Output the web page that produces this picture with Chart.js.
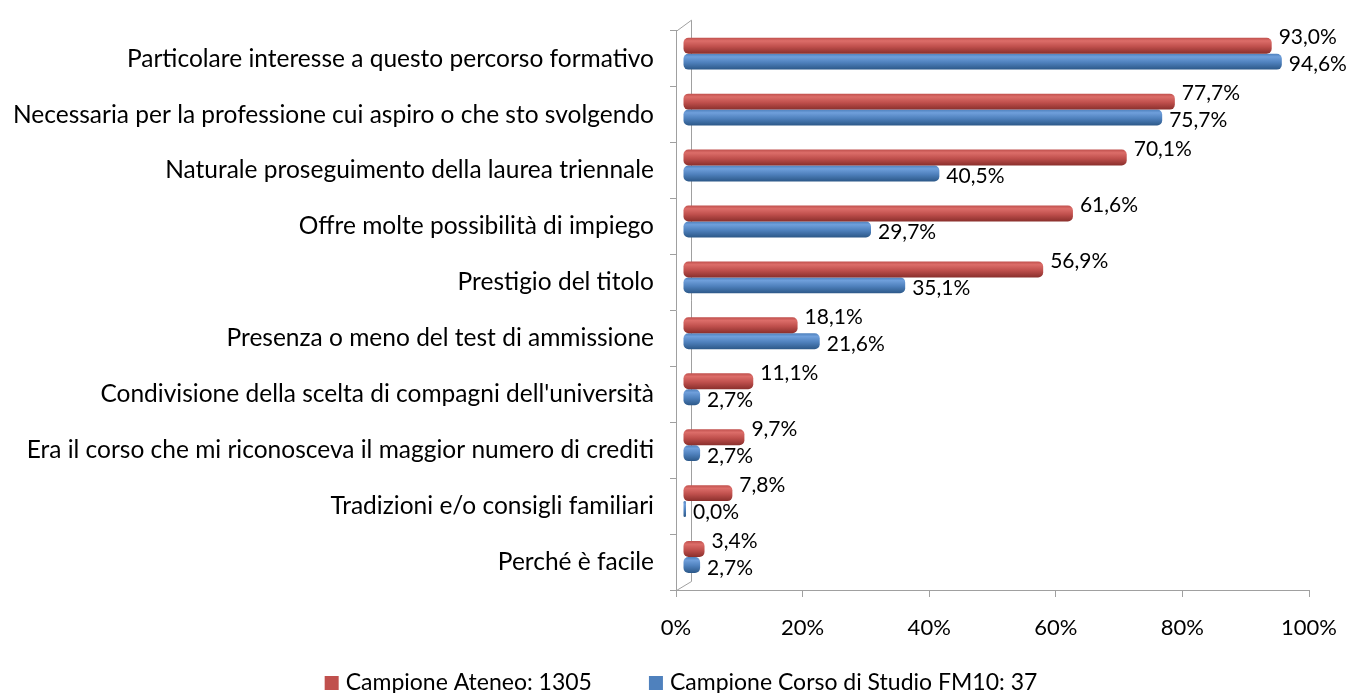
<!DOCTYPE html>
<html>
<head>
<meta charset="utf-8">
<script src="https://cdn.jsdelivr.net/npm/chart.js@4.4.1/dist/chart.umd.min.js"></script>
<style>
  html, body { margin: 0; padding: 0; background: #fff; }
  canvas { display: block; }
</style>
</head>
<body>
<canvas id="chart" width="1362" height="693"></canvas>
<script>
const categories = [
  'Particolare interesse a questo percorso formativo',
  'Necessaria per la professione cui aspiro o che sto svolgendo',
  'Naturale proseguimento della laurea triennale',
  'Offre molte possibilità di impiego',
  'Prestigio del titolo',
  'Presenza o meno del test di ammissione',
  "Condivisione della scelta di compagni dell'università",
  'Era il corso che mi riconosceva il maggior numero di crediti',
  'Tradizioni e/o consigli familiari',
  'Perché è facile',
]
const ateneoValues = [93.0, 77.7, 70.1, 61.6, 56.9, 18.1, 11.1, 9.7, 7.8, 3.4]
const corsoValues = [94.6, 75.7, 40.5, 29.7, 35.1, 21.6, 2.7, 2.7, 0.0, 2.7]
const seriesNames = ['Campione Ateneo: 1305', 'Campione Corso di Studio FM10: 37']
const xTicks = [0, 20, 40, 60, 80, 100]

const FONT = 'Lato, "Open Sans", sans-serif'
const AXIS_GRAY = '#a0a0a0'
const DEPTH_X = 7
const DEPTH_Y = -5

const shades = [
  { light: '#dc6d69', base: '#c0504d', dark: '#8a2f2c' },
  { light: '#6f9fdb', base: '#4f81bd', dark: '#2c5888' },
]

const fmt = (v) => v.toFixed(1).replace('.', ',') + '%'

const depthPlugin = {
  id: 'depth',
  beforeDatasetsDraw(chart) {
    const { ctx, chartArea } = chart
    const { left, top, bottom } = chartArea
    // back wall of the 3d frame
    ctx.save()
    ctx.strokeStyle = AXIS_GRAY
    ctx.lineWidth = 1
    ctx.beginPath()
    ctx.moveTo(left + 0.5, top + 0.5)
    ctx.lineTo(left + 15.5, top - 10.5)
    ctx.lineTo(left + 15.5, bottom - 8.5)
    ctx.lineTo(left + 0.5, bottom + 0.5)
    ctx.stroke()
    ctx.restore()

    chart.data.datasets.forEach((ds, i) => {
      const meta = chart.getDatasetMeta(i)
      const s = shades[i]
      meta.data.forEach((bar) => {
        const t = bar.y - bar.height / 2
        const g = ctx.createLinearGradient(0, t, 0, t + bar.height)
        g.addColorStop(0, s.base)
        g.addColorStop(0.2, s.light)
        g.addColorStop(0.55, s.base)
        g.addColorStop(1, s.dark)
        bar.options = Object.assign({}, bar.options, { backgroundColor: g })
      })
    })
    ctx.save()
    ctx.translate(DEPTH_X, DEPTH_Y)
  },
  afterDatasetsDraw(chart) {
    const { ctx } = chart
    ctx.font = '21px ' + FONT
    ctx.fillStyle = '#000'
    ctx.textAlign = 'left'
    ctx.textBaseline = 'middle'
    chart.data.datasets.forEach((ds, i) => {
      const meta = chart.getDatasetMeta(i)
      meta.data.forEach((bar, j) => {
        const dy = i === 0 ? -8 : 3
        ctx.fillText(fmt(ds.data[j]), bar.x + 7, bar.y + dy)
      })
    })
    ctx.restore()
  },
}

// legend drawn by hand so the gap between the two entries can match
const legendPlugin = {
  id: 'bottomLegend',
  afterDraw(chart) {
    const { ctx, width } = chart
    const box = 14
    const textGap = 7
    const itemGap = 57
    const y = 683
    ctx.save()
    ctx.font = '23px ' + FONT
    ctx.textBaseline = 'middle'
    ctx.textAlign = 'left'
    const widths = seriesNames.map((n) => box + textGap + ctx.measureText(n).width)
    const total = widths.reduce((a, b) => a + b, 0) + itemGap * (widths.length - 1)
    let x = (width - total) / 2
    seriesNames.forEach((n, i) => {
      ctx.fillStyle = shades[i].base
      ctx.fillRect(x, y - box / 2, box, box)
      ctx.fillStyle = '#000'
      ctx.fillText(n, x + box + textGap, y)
      x += widths[i] + itemGap
    })
    ctx.restore()
  },
}

new Chart(document.getElementById('chart').getContext('2d'), {
  type: 'bar',
  data: {
    labels: categories,
    datasets: [
      { label: seriesNames[0], data: ateneoValues, backgroundColor: shades[0].base },
      { label: seriesNames[1], data: corsoValues, backgroundColor: shades[1].base },
    ],
  },
  options: {
    indexAxis: 'y',
    responsive: false,
    animation: false,
    events: [],
    layout: { padding: { top: 28, right: 53, bottom: 0, left: 0 } },
    datasets: {
      bar: {
        categoryPercentage: 0.57,
        barPercentage: 1,
        borderRadius: 5,
        borderSkipped: false,
        borderWidth: 0,
        minBarLength: 3,
        clip: false,
      },
    },
    scales: {
      x: {
        type: 'linear',
        min: 0,
        max: 100,
        afterBuildTicks: (scale) => { scale.ticks = xTicks.map((v) => ({ value: v })) },
        ticks: { callback: (v) => v + '%', color: '#000', font: { family: FONT, size: 22 }, padding: 18, maxRotation: 0 },
        grid: { drawOnChartArea: false, tickLength: 7, color: AXIS_GRAY },
        border: { display: true, color: AXIS_GRAY },
        afterFit: (scale) => { scale.height = 103 },
      },
      y: {
        ticks: { color: '#000', font: { family: FONT, size: 24.5 }, padding: 16, autoSkip: false },
        grid: { drawOnChartArea: false, offset: true, tickLength: 6, color: AXIS_GRAY },
        border: { display: true, color: AXIS_GRAY },
        afterFit: (scale) => { scale.width = 676 },
      },
    },
    plugins: {
      legend: { display: false },
      tooltip: { enabled: false },
    },
  },
  plugins: [depthPlugin, legendPlugin],
})
</script>
</body>
</html>
